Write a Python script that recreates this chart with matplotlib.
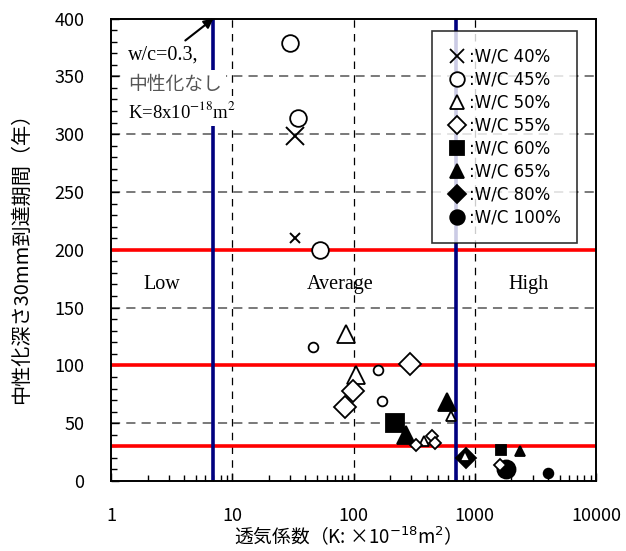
import numpy as np
import matplotlib
matplotlib.use('Agg')
import matplotlib.pyplot as plt
from matplotlib.ticker import FixedLocator, NullFormatter, MultipleLocator
from matplotlib.lines import Line2D

plt.rcParams['font.family'] = ['Noto Sans CJK JP', 'DejaVu Sans']

# permeability K (x1e-18 m2) and years until carbonation reaches 30 mm
wc40_k = [33, 33]
wc40_y = [298, 210]
wc45_k = [30, 35, 53, 46, 160, 172]
wc45_y = [379, 314, 200, 116, 96, 69]
wc50_k = [87, 105, 380, 640, 830]
wc50_y = [127, 92, 35, 56, 22]
wc55_k = [290, 98, 85, 325, 440, 470, 1600]
wc55_y = [101, 78, 64, 31, 39, 33, 14]
wc60_k = [220, 1650]
wc60_y = [50, 27]
wc65_k = [270, 590, 2350]
wc65_y = [40, 68, 26]
wc80_k = [850]
wc80_y = [20]
wc100_k = [1800, 4000]
wc100_y = [10, 7]

labels = [':W/C 40%', ':W/C 45%', ':W/C 50%', ':W/C 55%',
          ':W/C 60%', ':W/C 65%', ':W/C 80%', ':W/C 100%']

limit_years = [200, 100, 30]
k_bounds = [7, 700]

# marker style per series and marker size per point (large / small)
series = [
    (wc40_k, wc40_y, 'x', 'none', [13, 7], 3),
    (wc45_k, wc45_y, 'o', 'white', [12, 12, 12, 7, 7, 7], 4),
    (wc50_k, wc50_y, '^', 'white', [13, 13, 7, 7, 7], 5),
    (wc55_k, wc55_y, 'D', 'white', [11, 11, 11, 6, 6, 6, 6], 5),
    (wc60_k, wc60_y, 's', 'black', [13, 7], 3),
    (wc65_k, wc65_y, '^', 'black', [13, 13, 7], 3),
    (wc80_k, wc80_y, 'D', 'black', [10], 3),
    (wc100_k, wc100_y, 'o', 'black', [13, 7], 3),
]

fig = plt.figure(figsize=(6.26, 5.51), dpi=100)
ax = fig.add_axes([0.1773, 0.127, 0.775, 0.8394])

ax.set_xscale('log')
ax.set_xlim(1, 10000)
ax.set_ylim(0, 400)

# dashed grid
for xv in [10, 100, 1000]:
    ax.axvline(xv, color='black', lw=0.9, ls=(0, (6, 5)), zorder=1)
for yv in range(50, 400, 50):
    ax.axhline(yv, color='#555555', lw=1.1, ls=(0, (6, 4)), zorder=1)

for yv in limit_years:
    ax.axhline(yv, color='#ff0000', lw=2.6, zorder=2)
for xv in k_bounds:
    ax.axvline(xv, color='#00007f', lw=2.6, zorder=2)

handles = []
for k, yrs, mk, fc, sizes, z in series:
    for xi, yi, ms in zip(k, yrs, sizes):
        ax.plot(xi, yi, marker=mk, ms=ms, mfc=fc, mec='black',
                mew=1.3 if mk != 'x' else 1.4, ls='none', zorder=z)
    handles.append(Line2D([], [], marker=mk, ms=10.5 if mk != 'D' else 9.5,
                          mfc=fc, mec='black', mew=1.3, ls='none'))

# region labels
for xv, txt in [(2.6, 'Low'), (77, 'Average'), (2750, 'High')]:
    ax.text(xv, 170, txt, family='Liberation Serif', fontsize=14.5,
            ha='center', va='center', zorder=6)

# note for the w/c=0.3 specimen
ax.text(1.38, 368, 'w/c=0.3,', family='Liberation Serif', fontsize=14.5,
        va='center', zorder=6,
        bbox=dict(facecolor='white', edgecolor='none', pad=2))
ax.text(1.38, 343, '中性化なし', fontsize=13.5, color='#555555',
        va='center', zorder=6,
        bbox=dict(facecolor='white', edgecolor='none', pad=3))
ax.text(1.38, 320, 'K=8x10$^{-18}$m$^{2}$', family='Liberation Serif',
        math_fontfamily='stix', fontsize=13.5, va='center', zorder=6,
        bbox=dict(facecolor='white', edgecolor='none', pad=3))
ax.annotate('', xy=(7, 400), xytext=(4.1, 381),
            arrowprops=dict(arrowstyle='-|>', color='black', lw=1.5,
                            mutation_scale=14, shrinkA=0, shrinkB=0),
            zorder=7, annotation_clip=False)

leg = ax.legend(handles, labels, loc='upper right',
                bbox_to_anchor=(0.961, 0.973),
                prop={'family': 'DejaVu Sans', 'size': 12},
                frameon=True, fancybox=False, handlelength=1.0,
                handletextpad=0.2, labelspacing=0.3, borderpad=1.0,
                borderaxespad=0)
leg.get_frame().set_edgecolor('black')
leg.get_frame().set_linewidth(1.2)
leg.set_zorder(8)

# ticks
ax.yaxis.set_major_locator(MultipleLocator(50))
ax.yaxis.set_minor_locator(MultipleLocator(10))
ax.xaxis.set_major_locator(FixedLocator([1, 10, 100, 1000, 10000]))
ax.set_xticklabels(['1', '10', '100', '1000', '10000'])
minor_x = [m * 10 ** d for d in range(4) for m in range(2, 10)]
ax.xaxis.set_minor_locator(FixedLocator(minor_x))
ax.xaxis.set_minor_formatter(NullFormatter())
ax.tick_params(axis='both', which='major', direction='in', length=6,
               width=1, labelsize=13, pad=19, top=False, right=False)
ax.tick_params(axis='both', which='minor', direction='in', length=4,
               width=1, top=False, right=False)

for sp in ax.spines.values():
    sp.set_linewidth(1.4)

ax.set_ylabel('中性化深さ30mm到達期間（年）', fontsize=14.5)
ax.yaxis.set_label_coords(-0.163, 0.493)
ax.set_xlabel('透気係数（K: ×10$^{-18}$m$^{2}$）', fontsize=13.5)
ax.xaxis.set_label_coords(0.478, -0.098)

fig.savefig('out.png', dpi=100)
